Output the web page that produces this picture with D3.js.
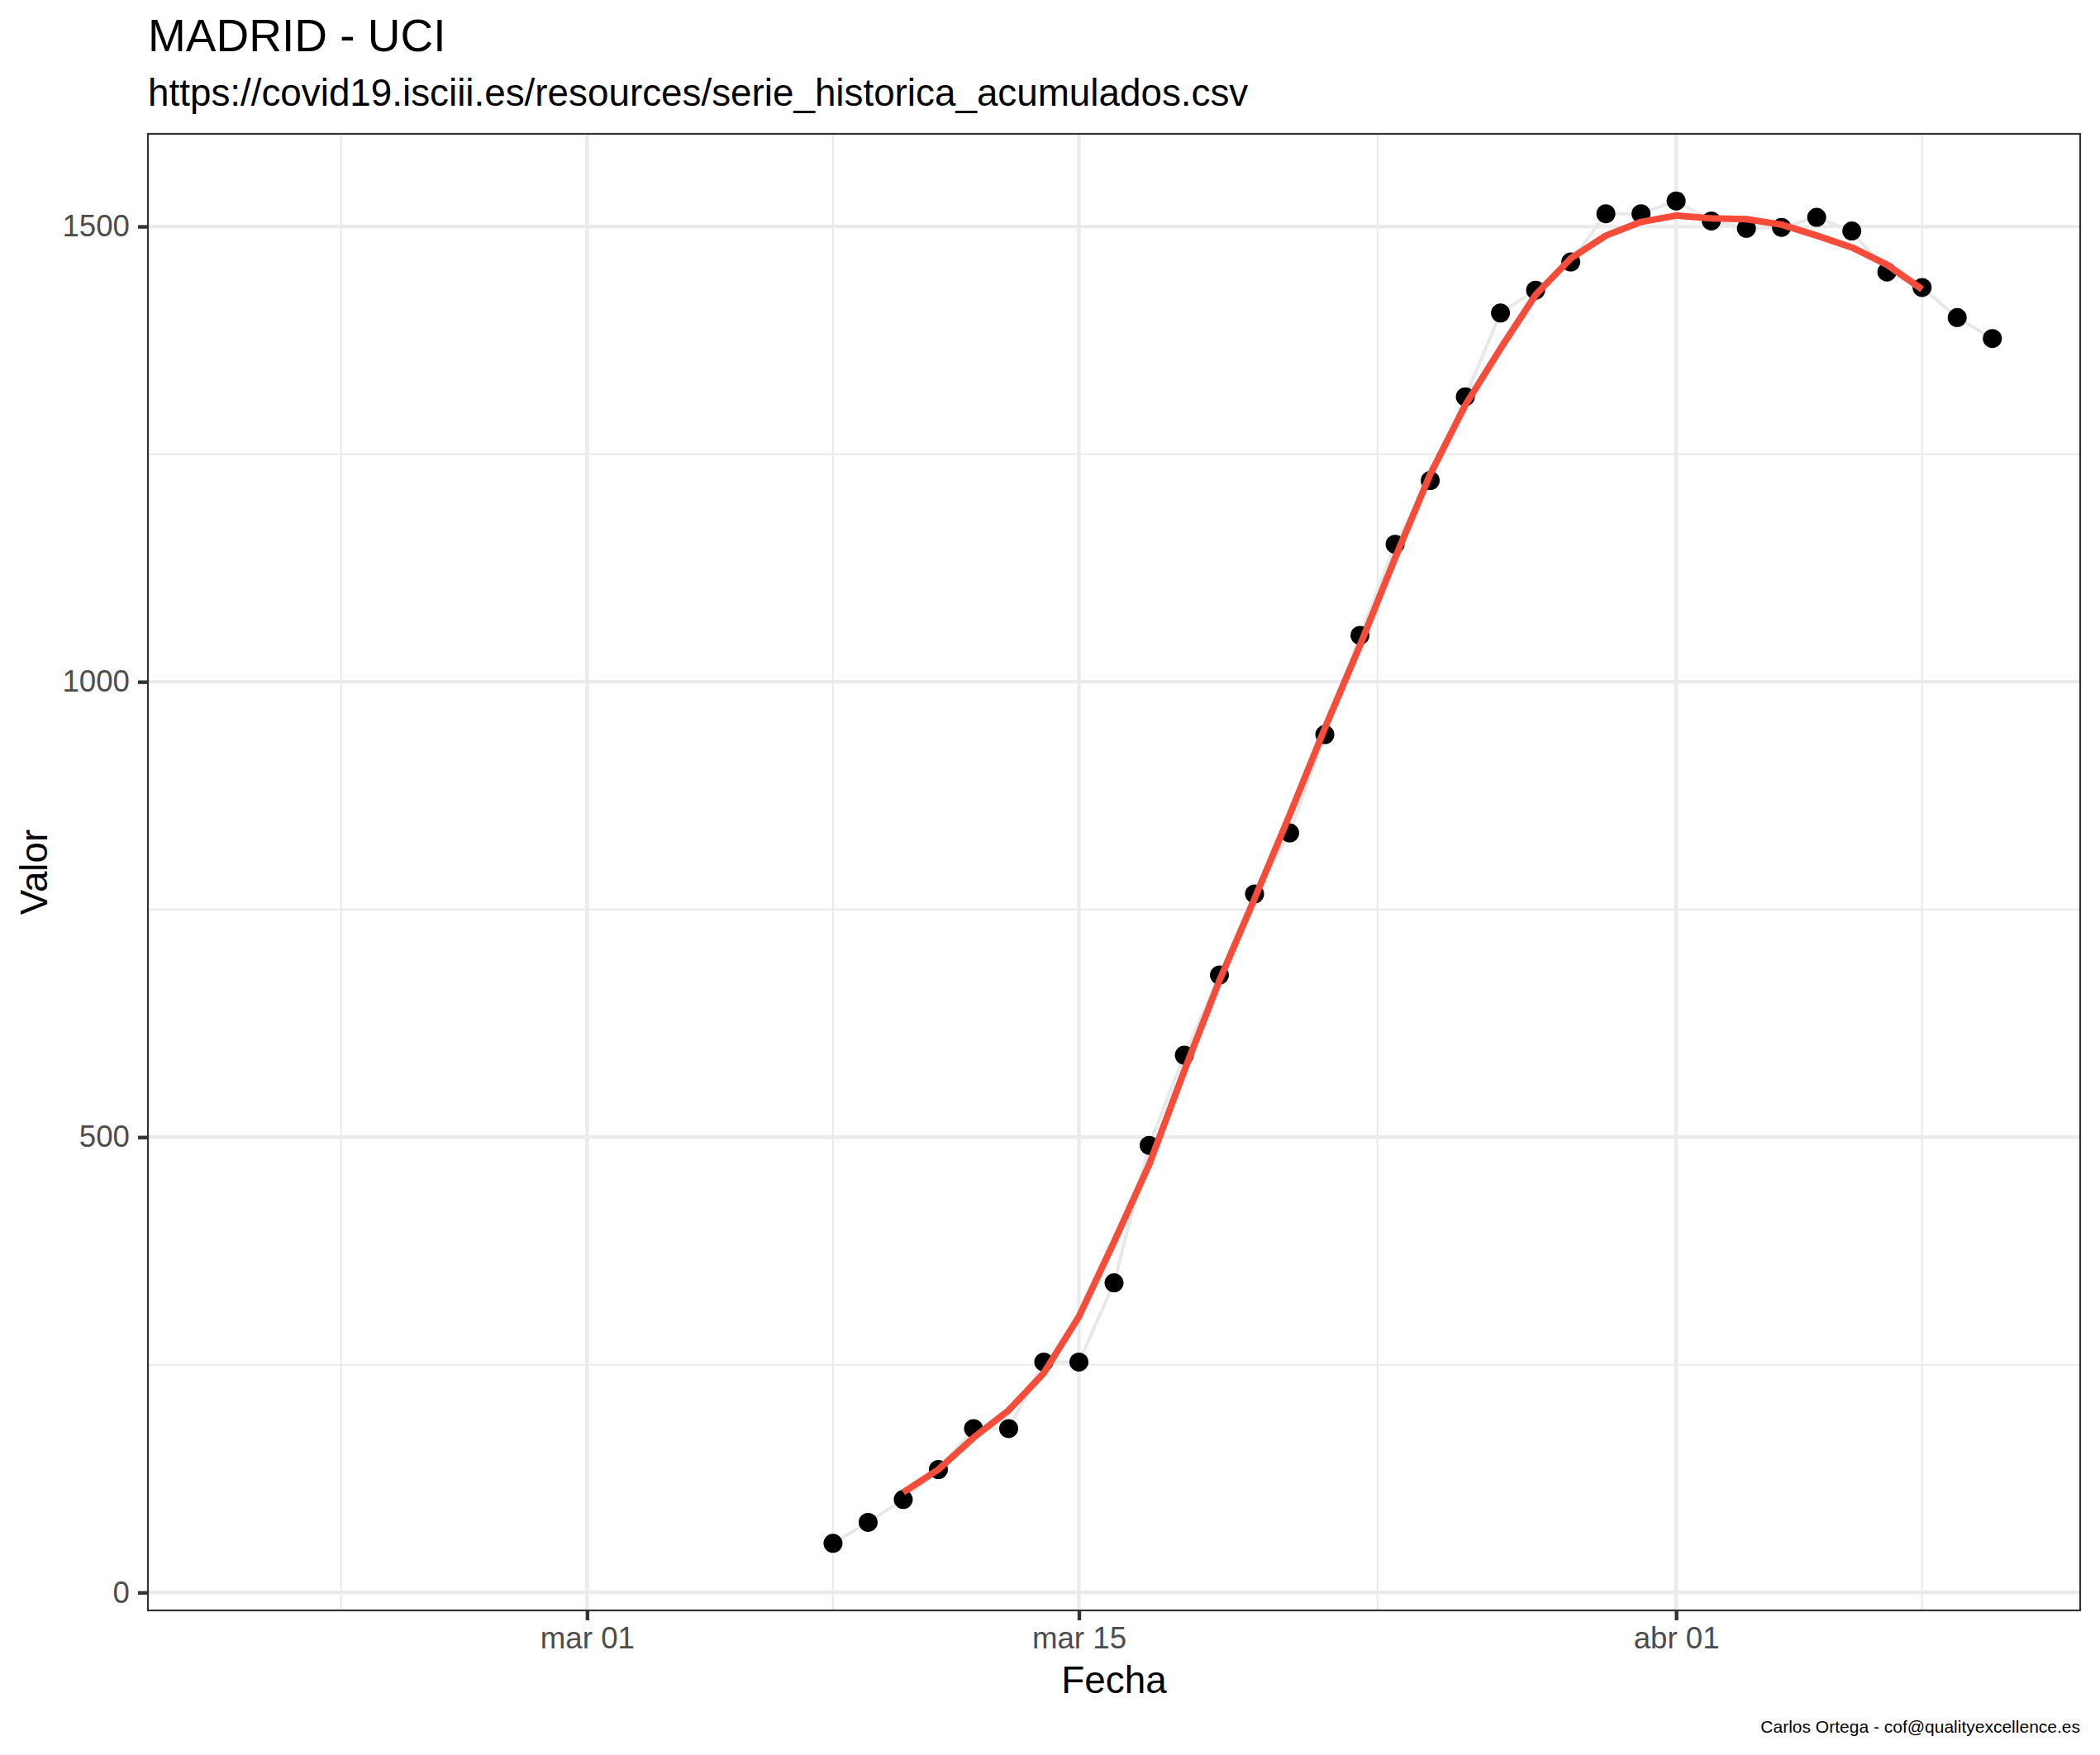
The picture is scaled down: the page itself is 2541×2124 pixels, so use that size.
<!DOCTYPE html>
<html>
<head>
<meta charset="utf-8">
<script src="https://cdn.jsdelivr.net/npm/d3@7"></script>
<style>
  body { margin: 0; background: #fff; }
  text { font-family: "Liberation Sans", Arial, Helvetica, sans-serif; }
</style>
</head>
<body>
<svg id="chart" width="2541" height="2124"></svg>
<script>
// daily ICU values, Madrid (Mar 8 - Apr 10, 2020)
const dates = [
    "2020-03-08", "2020-03-09", "2020-03-10", "2020-03-11", "2020-03-12", "2020-03-13",
    "2020-03-14", "2020-03-15", "2020-03-16", "2020-03-17", "2020-03-18", "2020-03-19",
    "2020-03-20", "2020-03-21", "2020-03-22", "2020-03-23", "2020-03-24", "2020-03-25",
    "2020-03-26", "2020-03-27", "2020-03-28", "2020-03-29", "2020-03-30", "2020-03-31",
    "2020-04-01", "2020-04-02", "2020-04-03", "2020-04-04", "2020-04-05", "2020-04-06",
    "2020-04-07", "2020-04-08", "2020-04-09", "2020-04-10"
];
const values = [
    54, 77, 102, 135, 180, 180,
    253, 253, 340, 491, 590, 678,
    767, 834, 942, 1051, 1151, 1221,
    1313, 1405, 1430, 1461, 1514, 1514,
    1528, 1506, 1498, 1499, 1510, 1495,
    1450, 1433, 1400, 1377
];

// red trend line (Mar 10 - Apr 8)
const trendDates = dates.slice(2, 32);
const trendValues = [
    110, 135, 170, 200, 241, 303,
    385, 470, 573, 672, 762, 854,
    949, 1040, 1136, 1228, 1304, 1366,
    1425, 1465, 1490, 1505, 1512, 1509,
    1508, 1502, 1490, 1477, 1458, 1431
];

const xLimits = ["2020-02-20", "2020-04-10"];
const xMajor = ["2020-03-01", "2020-03-15", "2020-04-01"];
const xMajorLabels = ["mar 01", "mar 15", "abr 01"];
const xMinor = ["2020-02-23", "2020-03-08", "2020-03-23T12:00", "2020-04-08"];
const yMajor = [0, 500, 1000, 1500];
const yMinor = [250, 750, 1250];

const parse = s => new Date(s + (s.length > 10 ? ":00Z" : "T00:00:00Z"));

const panel = { left: 179, right: 2517, top: 162, bottom: 1949 };

const svg = d3.select("#chart");

// ggplot-style 5% expansion
const xl = xLimits.map(parse);
const xSpan = xl[1] - xl[0];
const xScale = d3.scaleUtc()
    .domain([new Date(+xl[0] - xSpan * 0.05), new Date(+xl[1] + xSpan * 0.05)])
    .range([panel.left, panel.right]);

const yExt = d3.extent(values);
const ySpan = yExt[1] - yExt[0];
const yScale = d3.scaleLinear()
    .domain([yExt[0] - ySpan * 0.05, yExt[1] + ySpan * 0.05])
    .range([panel.bottom, panel.top]);

const g = svg.append("g");

// grid
g.selectAll(".yminor").data(yMinor).enter().append("line")
    .attr("x1", panel.left).attr("x2", panel.right)
    .attr("y1", d => yScale(d)).attr("y2", d => yScale(d))
    .attr("stroke", "#ebebeb").attr("stroke-width", 2.2);
g.selectAll(".xminor").data(xMinor).enter().append("line")
    .attr("y1", panel.top).attr("y2", panel.bottom)
    .attr("x1", d => xScale(parse(d))).attr("x2", d => xScale(parse(d)))
    .attr("stroke", "#ebebeb").attr("stroke-width", 2.2);
g.selectAll(".ymajor").data(yMajor).enter().append("line")
    .attr("x1", panel.left).attr("x2", panel.right)
    .attr("y1", d => yScale(d)).attr("y2", d => yScale(d))
    .attr("stroke", "#ebebeb").attr("stroke-width", 4.4);
g.selectAll(".xmajor").data(xMajor).enter().append("line")
    .attr("y1", panel.top).attr("y2", panel.bottom)
    .attr("x1", d => xScale(parse(d))).attr("x2", d => xScale(parse(d)))
    .attr("stroke", "#ebebeb").attr("stroke-width", 4.4);

const data = dates.map((d, i) => ({ date: parse(d), value: values[i] }));
const trend = trendDates.map((d, i) => ({ date: parse(d), value: trendValues[i] }));

const line = d3.line()
    .x(d => xScale(d.date))
    .y(d => yScale(d.value));

g.append("path")
    .datum(data)
    .attr("d", line)
    .attr("fill", "none")
    .attr("stroke", "#e8e8e8")
    .attr("stroke-width", 4);

g.selectAll(".pt").data(data).enter().append("circle")
    .attr("cx", d => xScale(d.date))
    .attr("cy", d => yScale(d.value))
    .attr("r", 11.5)
    .attr("fill", "#000");

g.append("path")
    .datum(trend)
    .attr("d", line)
    .attr("fill", "none")
    .attr("stroke", "#f84c3a")
    .attr("stroke-width", 8)
    .attr("stroke-linejoin", "round");

// panel border
svg.append("rect")
    .attr("x", panel.left).attr("y", panel.top)
    .attr("width", panel.right - panel.left)
    .attr("height", panel.bottom - panel.top)
    .attr("fill", "none")
    .attr("stroke", "#333333")
    .attr("stroke-width", 2.2);

// axes
const xAxis = d3.axisBottom(xScale)
    .tickValues(xMajor.map(parse))
    .tickFormat((d, i) => xMajorLabels[i])
    .tickSize(12)
    .tickPadding(8);
const gx = svg.append("g")
    .attr("transform", `translate(0, ${panel.bottom})`)
    .call(xAxis);

const yAxis = d3.axisLeft(yScale)
    .tickValues(yMajor)
    .tickFormat(d3.format("d"))
    .tickSize(12)
    .tickPadding(10);
const gy = svg.append("g")
    .attr("transform", `translate(${panel.left}, 0)`)
    .call(yAxis);

[gx, gy].forEach(a => {
    a.select(".domain").remove();
    a.selectAll(".tick line").attr("stroke", "#333333").attr("stroke-width", 4.4);
    a.selectAll(".tick text")
        .attr("fill", "#4d4d4d")
        .style("font-size", "36.7px")
        .style("font-family", "\"Liberation Sans\", Arial, sans-serif");
});

// titles
svg.append("text")
    .attr("x", panel.left).attr("y", 62)
    .style("font-size", "55px")
    .attr("fill", "#000")
    .text("MADRID - UCI");

svg.append("text")
    .attr("x", panel.left).attr("y", 128)
    .style("font-size", "45.8px")
    .attr("fill", "#000")
    .text("https://covid19.isciii.es/resources/serie_historica_acumulados.csv");

svg.append("text")
    .attr("x", (panel.left + panel.right) / 2).attr("y", 2049)
    .attr("text-anchor", "middle")
    .style("font-size", "45.8px")
    .text("Fecha");

svg.append("text")
    .attr("transform", `translate(57, ${(panel.top + panel.bottom) / 2}) rotate(-90)`)
    .attr("text-anchor", "middle")
    .style("font-size", "45.8px")
    .text("Valor");

svg.append("text")
    .attr("x", panel.right).attr("y", 2097)
    .attr("text-anchor", "end")
    .style("font-size", "21px")
    .text("Carlos Ortega - cof@qualityexcellence.es");
</script>
</body>
</html>
